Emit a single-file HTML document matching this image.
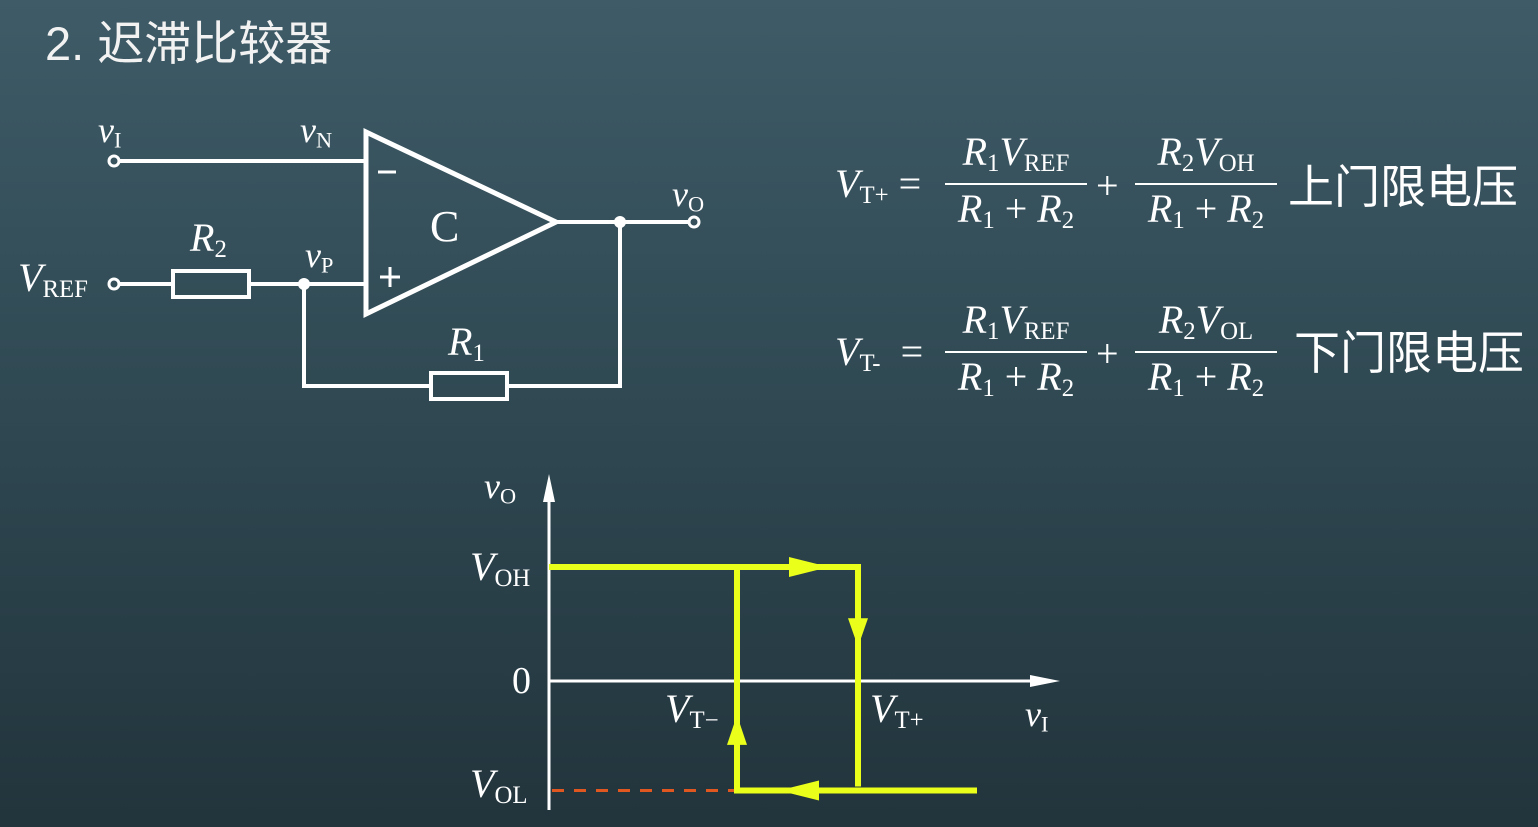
<!DOCTYPE html>
<html><head><meta charset="utf-8"><style>
html,body{margin:0;padding:0}
body{width:1538px;height:827px;overflow:hidden;background:linear-gradient(180deg,#3e5b67 0%,#2f4852 50%,#22343c 100%);position:relative;font-family:"Liberation Serif","Noto Serif CJK SC",serif;color:#fff}
.t{position:absolute;white-space:nowrap;line-height:1}
.i{font-style:italic}
sub{font-size:0.62em;vertical-align:-0.25em;font-style:normal}
.frac{position:absolute;text-align:center;line-height:1}
</style></head><body>
<div class="t" style="left:45px;top:20px;font-size:47px;font-family:'Liberation Sans','Noto Sans CJK SC',sans-serif;color:#f2f2f2">2. 迟滞比较器</div>

<svg width="760" height="420" style="position:absolute;left:0;top:0" stroke="#fff" fill="none">
 <line x1="118" y1="161" x2="366" y2="161" stroke-width="4"/>
 <circle cx="114" cy="161" r="5" stroke-width="3"/>
 <line x1="118" y1="284" x2="173" y2="284" stroke-width="4"/>
 <circle cx="114" cy="284" r="5" stroke-width="3"/>
 <rect x="173" y="271" width="76" height="26" stroke-width="4"/>
 <line x1="249" y1="284" x2="366" y2="284" stroke-width="4"/>
 <circle cx="304" cy="284" r="6" fill="#fff" stroke="none"/>
 <polyline points="304,284 304,386 431,386" stroke-width="4"/>
 <rect x="431" y="373" width="76" height="26" stroke-width="4"/>
 <polyline points="507,386 620,386 620,222" stroke-width="4"/>
 <polygon points="366,132 366,314 556,222" stroke-width="5"/>
 <line x1="556" y1="222" x2="690" y2="222" stroke-width="4"/>
 <circle cx="620" cy="222" r="6" fill="#fff" stroke="none"/>
 <circle cx="694" cy="222" r="5" stroke-width="3"/>
 <line x1="378" y1="172" x2="396" y2="172" stroke-width="3"/>
 <line x1="380" y1="277" x2="400" y2="277" stroke-width="3"/>
 <line x1="390" y1="267" x2="390" y2="287" stroke-width="3"/>
</svg>
<div class="t i" style="left:98px;top:112px;font-size:36px">v<sub>I</sub></div>
<div class="t i" style="left:300px;top:112px;font-size:36px">v<sub>N</sub></div>
<div class="t i" style="left:305px;top:237px;font-size:36px">v<sub>P</sub></div>
<div class="t i" style="left:672px;top:176px;font-size:36px">v<sub>O</sub></div>
<div class="t i" style="left:18px;top:258px;font-size:40px">V<sub>REF</sub></div>
<div class="t i" style="left:190px;top:218px;font-size:40px">R<sub>2</sub></div>
<div class="t i" style="left:448px;top:322px;font-size:40px">R<sub>1</sub></div>
<div class="t" style="left:430px;top:205px;font-size:44px">C</div>

<div class="t i" style="left:835px;top:164px;font-size:40px">V<sub>T+</sub> <span style="font-style:normal">=</span></div>
<div class="frac i" style="left:945px;top:132px;width:142px;font-size:40px">R<sub>1</sub>V<sub>REF</sub><div style="height:2px;background:#fff;margin:6px 0 4px"></div>R<sub>1</sub> <span style="font-style:normal">+</span> R<sub>2</sub></div>
<div class="t" style="left:1096px;top:166px;font-size:40px">+</div>
<div class="frac i" style="left:1135px;top:132px;width:142px;font-size:40px">R<sub>2</sub>V<sub>OH</sub><div style="height:2px;background:#fff;margin:6px 0 4px"></div>R<sub>1</sub> <span style="font-style:normal">+</span> R<sub>2</sub></div>
<div class="t" style="left:1288px;top:164px;font-size:46px;font-family:'Liberation Sans','Noto Sans CJK SC',sans-serif">上门限电压</div>
<div class="t i" style="left:835px;top:332px;font-size:40px">V<sub>T-</sub> <span style="font-style:normal">&nbsp;=</span></div>
<div class="frac i" style="left:945px;top:300px;width:142px;font-size:40px">R<sub>1</sub>V<sub>REF</sub><div style="height:2px;background:#fff;margin:6px 0 4px"></div>R<sub>1</sub> <span style="font-style:normal">+</span> R<sub>2</sub></div>
<div class="t" style="left:1096px;top:334px;font-size:40px">+</div>
<div class="frac i" style="left:1135px;top:300px;width:142px;font-size:40px">R<sub>2</sub>V<sub>OL</sub><div style="height:2px;background:#fff;margin:6px 0 4px"></div>R<sub>1</sub> <span style="font-style:normal">+</span> R<sub>2</sub></div>
<div class="t" style="left:1294px;top:330px;font-size:46px;font-family:'Liberation Sans','Noto Sans CJK SC',sans-serif">下门限电压</div>

<svg id="chart" width="1538" height="827" style="position:absolute;left:0;top:0"></svg>
<div class="t i" style="left:484px;top:468px;font-size:36px">v<sub>O</sub></div>
<div class="t i" style="left:470px;top:547px;font-size:40px">V<sub>OH</sub></div>
<div class="t" style="left:512px;top:662px;font-size:38px">0</div>
<div class="t i" style="left:470px;top:764px;font-size:40px">V<sub>OL</sub></div>
<div class="t i" style="left:665px;top:689px;font-size:40px">V<sub>T−</sub></div>
<div class="t i" style="left:870px;top:689px;font-size:40px">V<sub>T+</sub></div>
<div class="t i" style="left:1025px;top:696px;font-size:36px">v<sub>I</sub></div>
<script>
const levels=[1,-0.96];           // VOH, VOL
const thresholds=[3.76,6.14];     // VT-, VT+
const inputRange=[0,8.56];        // vI start, end
const NS='http://www.w3.org/2000/svg';
const svg=document.getElementById('chart');
const X=v=>549+v*50, Y=v=>681-v*114;
function el(t,a){const e=document.createElementNS(NS,t);for(const k in a)e.setAttribute(k,a[k]);svg.appendChild(e);return e;}
let e;
e=el('line',{x1:549,y1:810,x2:549,y2:490,stroke:'#fff','stroke-width':3});


e=el('polygon',{points:'549,474 543,502 555,502',fill:'#fff'});


e=el('line',{x1:549,y1:Y(0),x2:1035,y2:Y(0),stroke:'#fff','stroke-width':3});


e=el('polygon',{points:`1060,${Y(0)} 1030,${Y(0)-6} 1030,${Y(0)+6}`,fill:'#fff'});


const yel='#eaff1a',ym=X(thresholds[0]),yp=X(thresholds[1]),yh=Y(levels[0]),yl=Y(levels[1]);
e=el('line',{x1:552,y1:yl,x2:ym,y2:yl,stroke:'#e0571f','stroke-width':3,'stroke-dasharray':'12 10'});


e=el('polyline',{points:`${X(inputRange[0])},${yh} ${yp+2},${yh} ${yp+2},${yl-4}`,fill:'none',stroke:yel,'stroke-width':6});


e=el('polyline',{points:`${X(inputRange[1])},${yl} ${ym},${yl} ${ym},${yh}`,fill:'none',stroke:yel,'stroke-width':6});


e=el('polygon',{points:`${X(5.6)},${yh} ${X(4.8)},${yh-10} ${X(4.8)},${yh+10}`,fill:yel});


e=el('polygon',{points:`${yp+2},${Y(0.3)} ${yp-8},${Y(0.55)} ${yp+12},${Y(0.55)}`,fill:yel});


e=el('polygon',{points:`${X(4.6)},${yl} ${X(5.4)},${yl-10} ${X(5.4)},${yl+10}`,fill:yel});


e=el('polygon',{points:`${ym},${Y(-0.3)} ${ym-10},${Y(-0.56)} ${ym+10},${Y(-0.56)}`,fill:yel});


</script>
</body></html>
